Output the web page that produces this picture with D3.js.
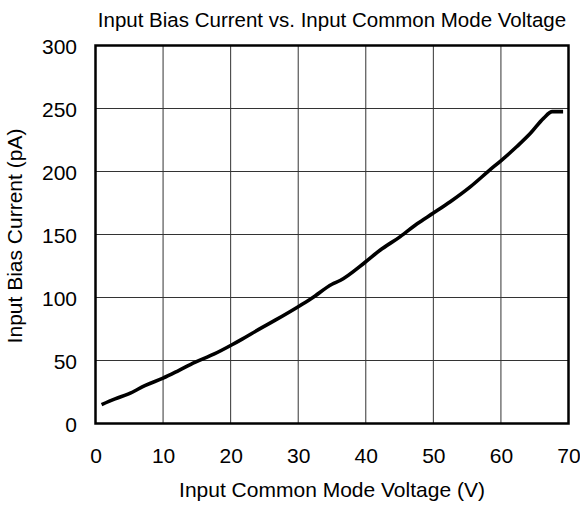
<!DOCTYPE html>
<html>
<head>
<meta charset="utf-8">
<script src="https://cdn.jsdelivr.net/npm/d3@7"></script>
<style>
  html, body { margin: 0; padding: 0; background: #fff; }
  svg { display: block; font-family: "Liberation Sans", Arial, sans-serif; }
</style>
</head>
<body>
<svg id="chart" width="580" height="506"></svg>
<script>
const voltage = [0.9, 2.9, 4.9, 7.3, 10, 12.3, 14.7, 17.5, 20.2, 21.7, 24.1, 26.6, 30, 32, 35, 36.2, 39.9, 42.1, 45.1, 47.6, 50, 52.5, 55.5, 58.2, 60.2, 62.4, 64.4, 66.3, 67.6, 69.2];
const biasCurrent = [15, 19.5, 23.5, 30, 36, 42, 48.5, 55, 62.5, 67, 74.5, 82, 92.7, 99.4, 110.5, 113.5, 128, 137.5, 148.3, 158.5, 167, 176, 188, 200.5, 209.5, 220, 230.5, 242.2, 247.5, 247.5];
const xTicks = [0, 10, 20, 30, 40, 50, 60, 70];
const yTicks = [0, 50, 100, 150, 200, 250, 300];
const titleText = "Input Bias Current vs. Input Common Mode Voltage";
const xLabel = "Input Common Mode Voltage (V)";
const yLabel = "Input Bias Current (pA)";

(function () {
const svg = d3.select("#chart");
const pLeft = 95.5, pRight = 568.5, pTop = 45.5, pBottom = 423.5;
const x = d3.scaleLinear().domain([0, 70]).range([pLeft, pRight]);
const y = d3.scaleLinear().domain([0, 300]).range([pBottom, pTop]);

// grid
svg.append("g").selectAll("line").data(xTicks).join("line")
  .attr("x1", d => x(d)).attr("x2", d => x(d))
  .attr("y1", pTop).attr("y2", pBottom)
  .attr("stroke", "#333").attr("stroke-width", 1);
svg.append("g").selectAll("line").data(yTicks).join("line")
  .attr("x1", pLeft).attr("x2", pRight)
  .attr("y1", d => y(d)).attr("y2", d => y(d))
  .attr("stroke", "#333").attr("stroke-width", 1);

// frame
svg.append("rect").attr("x", pLeft).attr("y", pTop)
  .attr("width", pRight - pLeft).attr("height", pBottom - pTop)
  .attr("fill", "none").attr("stroke", "#000").attr("stroke-width", 2.5);

// axes tick labels
const xAxis = d3.axisBottom(x).tickValues(xTicks).tickSize(0).tickPadding(0).tickFormat(d3.format("d"));
const gx = svg.append("g").attr("transform", `translate(0,${pBottom})`).call(xAxis);
gx.select(".domain").remove();
gx.selectAll("text").attr("font-size", 21).attr("fill", "#000")
  .attr("font-family", "Liberation Sans, Arial, sans-serif")
  .attr("dy", null).attr("y", 39.5);

const yAxis = d3.axisLeft(y).tickValues(yTicks).tickSize(0).tickPadding(0).tickFormat(d3.format("d"));
const gy = svg.append("g").attr("transform", `translate(77,0)`).call(yAxis);
gy.select(".domain").remove();
gy.selectAll("text").attr("font-size", 21).attr("fill", "#000")
  .attr("font-family", "Liberation Sans, Arial, sans-serif")
  .attr("x", 0).attr("dy", "0.36em");

// curve
const line = d3.line().x((d, i) => x(voltage[i])).y((d, i) => y(biasCurrent[i])).curve(d3.curveMonotoneX);
svg.append("path").datum(voltage).attr("d", line)
  .attr("fill", "none").attr("stroke", "#000").attr("stroke-width", 3.6)
  .attr("stroke-linejoin", "round");

// titles
svg.append("text").attr("x", 332).attr("y", 26.5).attr("text-anchor", "middle")
  .attr("font-size", 20.5).attr("fill", "#000").text(titleText);
svg.append("text").attr("x", 332).attr("y", 497).attr("text-anchor", "middle")
  .attr("font-size", 21).attr("fill", "#000").text(xLabel);
svg.append("text").attr("transform", "translate(22,236) rotate(-90)").attr("text-anchor", "middle")
  .attr("font-size", 21).attr("fill", "#000").text(yLabel);
})();
</script>
</body>
</html>
